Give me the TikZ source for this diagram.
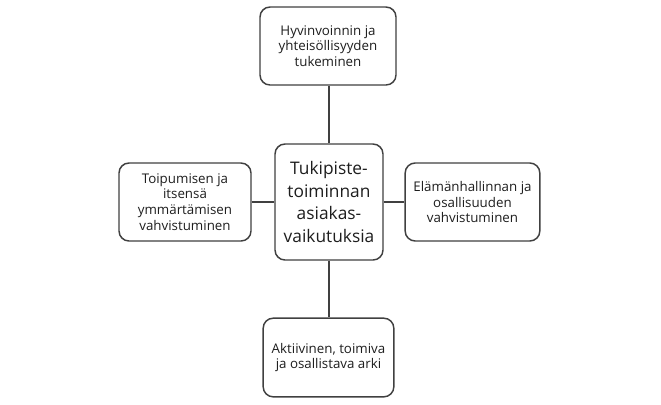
\documentclass[tikz,border=0pt]{standalone}
\usepackage{fontspec}
\setmainfont{Open Sans}
\usepackage{xcolor}
\usetikzlibrary{positioning}

\definecolor{boxline}{HTML}{404040}
\definecolor{boxtext}{HTML}{1E1E1E}

\begin{document}
\begin{tikzpicture}[x=0.75pt,y=-0.75pt]
\tikzstyle{every node}+=[inner sep=0pt]
\tikzstyle{outcome}=[draw=boxline, line width=1.1pt, rounded corners=7.5pt,
  fill=white, align=center, text=boxtext, minimum height=58.5pt,
  font=\fontsize{10}{11.8}\selectfont]
\tikzstyle{hub}=[outcome, minimum width=81pt, minimum height=87pt,
  font=\fontsize{13}{17.2}\selectfont]
\tikzstyle{link}=[draw=boxline, line width=1.1pt]
\useasboundingbox (0,0) rectangle (661,404);
\node [hub] (hub) at (329,202) {Tukipiste-\\toiminnan\\asiakas-\\vaikutuksia};
\node [outcome, minimum width=102pt] (wellbeing) at (328,46)
  {Hyvinvoinnin ja\\yhteisöllisyyden\\tukeminen};
\node [outcome, minimum width=99pt] (recovery) at (185,202)
  {Toipumisen ja\\itsensä\\ymmärtämisen\\vahvistuminen};
\node [outcome, minimum width=101pt] (control) at (472.5,202)
  {Elämänhallinnan ja\\osallisuuden\\vahvistuminen};
\node [outcome, minimum width=98pt, minimum height=59pt] (everyday) at (328.5,357.5)
  {Aktiivinen, toimiva\\ja osallistava arki};
\draw [link] (wellbeing.south -| hub.north) -- (hub.north);
\draw [link] (hub.south) -- (everyday.north -| hub.south);
\draw [link] (recovery.east) -- (hub.west);
\draw [link] (hub.east) -- (control.west);
\end{tikzpicture}
\end{document}
